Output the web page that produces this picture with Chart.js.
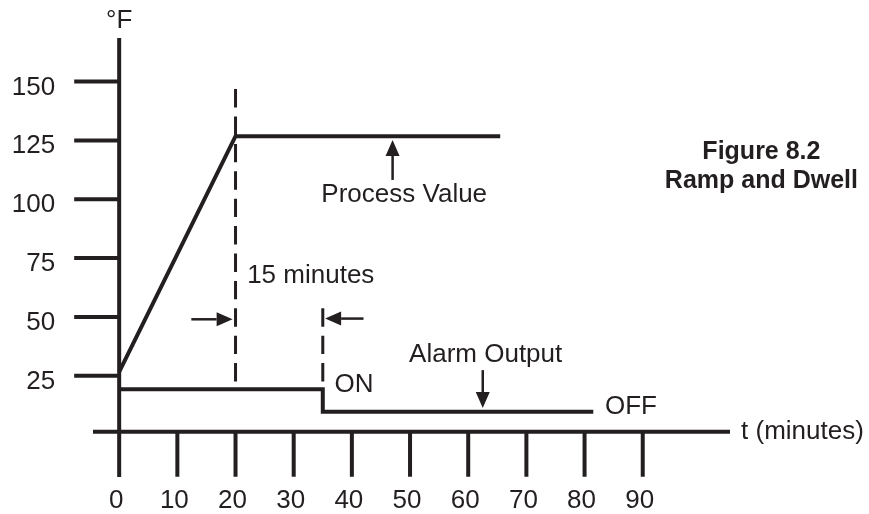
<!DOCTYPE html>
<html>
<head>
<meta charset="utf-8">
<title>Figure 8.2 Ramp and Dwell</title>
<script src="https://cdn.jsdelivr.net/npm/chart.js@4.4.1/dist/chart.umd.min.js"></script>
<style>
  body { margin: 0; background: #fff; }
  .chart-container { position: relative; width: 869px; height: 514px; }
</style>
</head>
<body>
<div class="chart-container"><canvas id="chart"></canvas></div>
<script>
// Achsen-Ticks
const timeTicks = [0, 10, 20, 30, 40, 50, 60, 70, 80, 90];
const tempTicks = [25, 50, 75, 100, 125, 150];
const xAxisAt = 1.2; // x-Achse liegt knapp über 0 °F

// Process Value: Rampe bis 20 min, dann Haltezeit
const pvTime = [0, 20, 65.5];
const pvTemp = [26.7, 126.8, 126.8];

// Alarm Output: ON bis 35 min, danach OFF
const alarmTime = [0, 35, 35, 81.5];
const alarmLevel = [19.3, 19.3, 9.7, 9.7];

// gestrichelte Linien (Ende Rampe / Ende 15 Minuten)
const markerTime = [20, 35];
const markerTop = [146.8, 53.7];
const markerBottom = [22.4, 22.4];

// Pfeile als [x1, y1, x2, y2] in Datenwerten (Spitze bei x2/y2)
const arrows = [
  [47, 108.2, 47, 125.2],
  [62.5, 27.4, 62.5, 11.3],
  [12.4, 49, 19.5, 49],
  [42, 49.3, 35.4, 49.3],
];

// Texte im Diagramm
const notes = [
  { text: "°F", x: 0, y: 172.7, align: "center" },
  { text: "Process Value", x: 49, y: 98.8, align: "center" },
  { text: "15 minutes", x: 22, y: 64.4, align: "left" },
  { text: "ON", x: 37, y: 18.1, align: "left" },
  { text: "Alarm Output", x: 63, y: 30.8, align: "center" },
  { text: "OFF", x: 83.5, y: 8.75, align: "left" },
  { text: "t (minutes)", x: 106.9, y: -1.9, align: "left" },
  { text: "Figure 8.2", x: 110.4, y: 117.1, align: "center", bold: true },
  { text: "Ramp and Dwell", x: 110.4, y: 104.8, align: "center", bold: true },
];

const ink = "#231f20";
const fontFamily = '"Liberation Sans", Arial, Helvetica, sans-serif';

function toPoints(xs, ys) {
  return xs.map((v, i) => ({ x: v, y: ys[i] }));
}

function drawArrow(ctx, x1, y1, x2, y2) {
  const head = 16;
  const half = 7;
  const ang = Math.atan2(y2 - y1, x2 - x1);
  const bx = x2 - head * Math.cos(ang);
  const by = y2 - head * Math.sin(ang);
  ctx.lineWidth = 2.5;
  ctx.beginPath();
  ctx.moveTo(x1, y1);
  ctx.lineTo(bx, by);
  ctx.stroke();
  ctx.beginPath();
  ctx.moveTo(x2, y2);
  ctx.lineTo(bx + half * Math.sin(ang), by - half * Math.cos(ang));
  ctx.lineTo(bx - half * Math.sin(ang), by + half * Math.cos(ang));
  ctx.closePath();
  ctx.fill();
}

// Achsen, Ticks, Beschriftungen und Pfeile
const figurePlugin = {
  id: "figure",
  afterDraw(chart) {
    const { ctx, chartArea } = chart;
    const x = chart.scales.x;
    const y = chart.scales.y;
    const x0 = x.getPixelForValue(0);
    const yBase = y.getPixelForValue(xAxisAt);

    ctx.save();
    ctx.strokeStyle = ink;
    ctx.fillStyle = ink;
    ctx.lineCap = "butt";
    ctx.lineWidth = 4;

    ctx.beginPath();
    ctx.moveTo(x0, chartArea.top);
    ctx.lineTo(x0, chartArea.bottom);
    ctx.moveTo(chartArea.left, yBase);
    ctx.lineTo(chartArea.right, yBase);
    tempTicks.forEach((v) => {
      const py = y.getPixelForValue(v);
      ctx.moveTo(x0 - 45, py);
      ctx.lineTo(x0, py);
    });
    timeTicks.forEach((v) => {
      const px = x.getPixelForValue(v);
      ctx.moveTo(px, yBase);
      ctx.lineTo(px, yBase + 45);
    });
    ctx.stroke();

    ctx.font = "26px " + fontFamily;
    ctx.textBaseline = "alphabetic";
    ctx.textAlign = "right";
    tempTicks.forEach((v) => {
      ctx.fillText(String(v), x0 - 64, y.getPixelForValue(v) + 13);
    });
    ctx.textAlign = "center";
    timeTicks.forEach((v) => {
      ctx.fillText(String(v), x.getPixelForValue(v) - 3, yBase + 76);
    });

    arrows.forEach((a) => {
      drawArrow(ctx, x.getPixelForValue(a[0]), y.getPixelForValue(a[1]),
        x.getPixelForValue(a[2]), y.getPixelForValue(a[3]));
    });

    notes.forEach((n) => {
      ctx.font = (n.bold ? "bold 25px " : "26px ") + fontFamily;
      ctx.textAlign = n.align;
      ctx.fillText(n.text, x.getPixelForValue(n.x), y.getPixelForValue(n.y));
    });
    ctx.restore();
  },
};

const lineStyle = {
  showLine: true,
  pointRadius: 0,
  borderColor: ink,
  borderWidth: 4,
  borderJoinStyle: "miter",
  borderCapStyle: "butt",
  fill: false,
  tension: 0,
};

const canvas = document.querySelector("#chart");
const ctx = canvas.getContext("2d");

new Chart(ctx, {
  type: "scatter",
  data: {
    datasets: [
      { label: "Process Value", data: toPoints(pvTime, pvTemp), ...lineStyle },
      { label: "Alarm Output", data: toPoints(alarmTime, alarmLevel), ...lineStyle },
      ...markerTime.map((t, i) => ({
        label: "marker" + i,
        data: [{ x: t, y: markerTop[i] }, { x: t, y: markerBottom[i] }],
        ...lineStyle,
        borderWidth: 3,
        borderDash: [18.4, 9],
      })),
    ],
  },
  options: {
    responsive: true,
    maintainAspectRatio: false,
    animation: false,
    layout: { padding: { left: 93, top: 38, right: 139, bottom: 37 } },
    scales: {
      x: { type: "linear", min: -4.5, max: 105, display: false },
      y: { type: "linear", min: -18, max: 168.5, display: false },
    },
    plugins: {
      legend: { display: false },
      tooltip: { enabled: false },
    },
  },
  plugins: [figurePlugin],
});
</script>
</body>
</html>
